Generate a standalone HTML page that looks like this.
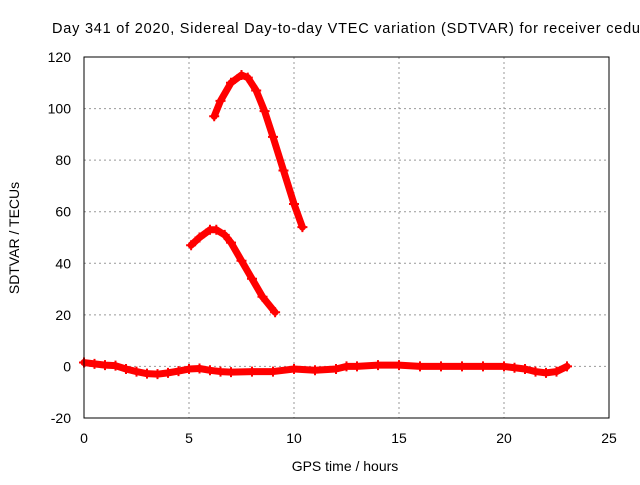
<!DOCTYPE html>
<html><head><meta charset="utf-8"><style>
body{margin:0;background:#fff;overflow:hidden;}
svg{font-family:"Liberation Sans",sans-serif;}
</style></head><body>
<svg id="chart" width="640" height="480" viewBox="0 0 640 480" xmlns="http://www.w3.org/2000/svg">
<rect width="640" height="480" fill="#fff"/>
<text x="52" y="33" font-size="14.5" textLength="588" lengthAdjust="spacing" fill="#000">Day 341 of 2020, Sidereal Day-to-day VTEC variation (SDTVAR) for receiver cedu</text>
<g id="grid"></g>
<g id="series"></g>
<rect x="84" y="57" width="525" height="361" fill="none" stroke="#000" stroke-width="1"/>
<g id="ticks"></g>
<text x="345" y="471" font-size="14" text-anchor="middle">GPS time / hours</text>
<text transform="translate(19,238) rotate(-90)" font-size="14" text-anchor="middle">SDTVAR / TECUs</text>
</svg>
<script>
const xTicks=[0,5,10,15,20,25];
const yTicks=[-20,0,20,40,60,80,100,120];
const s1x=[0,0.5,1,1.5,2,2.5,3,3.5,4,4.5,5,5.5,6,6.5,7,8,9,10,11,12,12.5,13,14,15,16,17,18,19,20,20.5,21,21.5,22,22.5,23];
const s1y=[1.5,1,0.5,0.3,-1,-2,-2.8,-3,-2.5,-1.8,-1,-0.8,-1.5,-2,-2.2,-2,-2,-1,-1.5,-1,0,0,0.5,0.5,0,0,0,0,0,-0.5,-1,-2,-2.5,-2,0];
const s2x=[5.1,5.5,6,6.3,6.7,7,7.5,8,8.5,9.1];
const s2y=[47,50,53,53,51,48,41,34,27,21];
const s3x=[6.2,6.5,7,7.5,7.8,8.2,8.6,9,9.5,10,10.4];
const s3y=[97,103,110,113,112,107,99,89,76,63,54];
const X=v=>84+v*21, Y=v=>418-(v+20)*361/140;
const NS="http://www.w3.org/2000/svg";
function mk(t,a,p){const e=document.createElementNS(NS,t);for(const k in a)e.setAttribute(k,a[k]);p.appendChild(e);return e;}
const grid=document.getElementById('grid'),ticks=document.getElementById('ticks'),ser=document.getElementById('series');
xTicks.forEach(v=>{
 if(v>0&&v<25){const g=mk('line',{x1:X(v),x2:X(v),y1:57,y2:418,stroke:'#999','stroke-dasharray':'2,3'},grid);
 
 }
 const t=mk('text',{x:X(v),y:443,'font-size':14,'text-anchor':'middle'},ticks);t.textContent=v;
 
 
});
yTicks.forEach(v=>{
 if(v>-20&&v<120){const g=mk('line',{x1:84,x2:609,y1:Y(v),y2:Y(v),stroke:'#999','stroke-dasharray':'2,3'},grid);
 
 }
 const t=mk('text',{x:71,y:Y(v)+5,'font-size':14,'text-anchor':'end'},ticks);t.textContent=v;
 
 
});
[[s1x,s1y,'baseline-series'],[s2x,s2y,'middle-arc-series'],[s3x,s3y,'upper-arc-series']].forEach(([xs,ys,n])=>{
 const pts=xs.map((x,i)=>X(x)+','+Y(ys[i])).join(' ');
 const p=mk('polyline',{points:pts,fill:'none',stroke:'#f00','stroke-width':7,'stroke-linejoin':'round','stroke-linecap':'round'},ser);
 
 
 xs.forEach((x,i)=>{const m=mk('path',{d:`M${X(x)-5},${Y(ys[i])}h10M${X(x)},${Y(ys[i])-5}v10`,stroke:'#f00','stroke-width':2},ser);
 
 });
});
</script>
</body></html>
